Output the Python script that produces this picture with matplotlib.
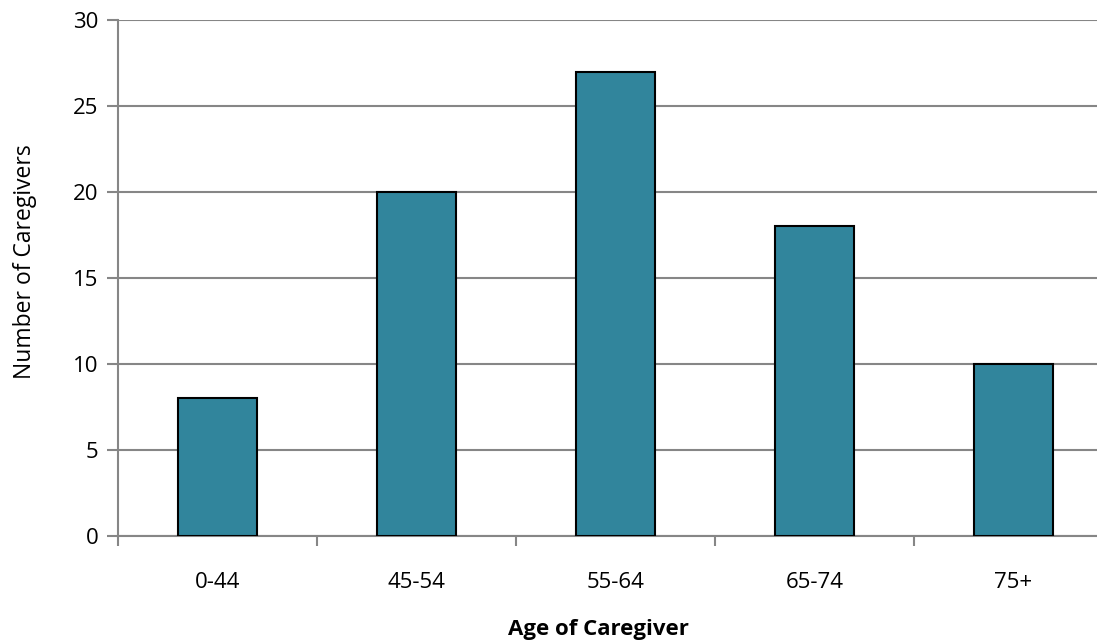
import numpy as np
import matplotlib
matplotlib.use("Agg")
import matplotlib.pyplot as plt

ages = ["0-44", "45-54", "55-64", "65-74", "75+"]
caregivers = [8, 20, 27, 18, 10]

plt.rcParams['font.family'] = ['Open Sans', 'DejaVu Sans']

grid_grey = "#868686"

fig = plt.figure(figsize=(10.97, 6.44), dpi=100)
ax = fig.add_axes([118/1097, 108/644, 995/1097, 516/644])

x = np.arange(len(ages))
ax.bar(x, caregivers, width=0.4, color="#31859C", edgecolor="black",
       linewidth=1.5, zorder=3)

ax.set_xlim(-0.5, len(ages) - 0.5)
ax.set_ylim(0, 30)
ax.set_yticks(range(0, 31, 5))
ax.yaxis.grid(True, color=grid_grey, linewidth=1.5, zorder=0)

# category labels centred, tick marks between categories
ax.set_xticks(x)
ax.set_xticklabels(ages, fontsize=16)
ax.set_xticks(np.arange(-0.5, len(ages)), minor=True)
ax.tick_params(axis="x", which="major", length=0, pad=26)
ax.tick_params(axis="x", which="minor", length=7, width=1.5, color=grid_grey)
ax.tick_params(axis="y", length=8, width=1.5, color=grid_grey,
               labelsize=16, pad=6)

for side in ["top", "right"]:
    ax.spines[side].set_visible(False)
for side in ["left", "bottom"]:
    ax.spines[side].set_color(grid_grey)
    ax.spines[side].set_linewidth(1.5)

ax.set_ylabel("Number of Caregivers", fontsize=16.5, va="center")
ax.yaxis.set_label_coords(-93/995, 274/516)
ax.set_xlabel("Age of Caregiver", fontsize=16, fontweight="bold", va="center")
ax.xaxis.set_label_coords(480/995, -94/516)

fig.savefig("out.png", dpi=100)
